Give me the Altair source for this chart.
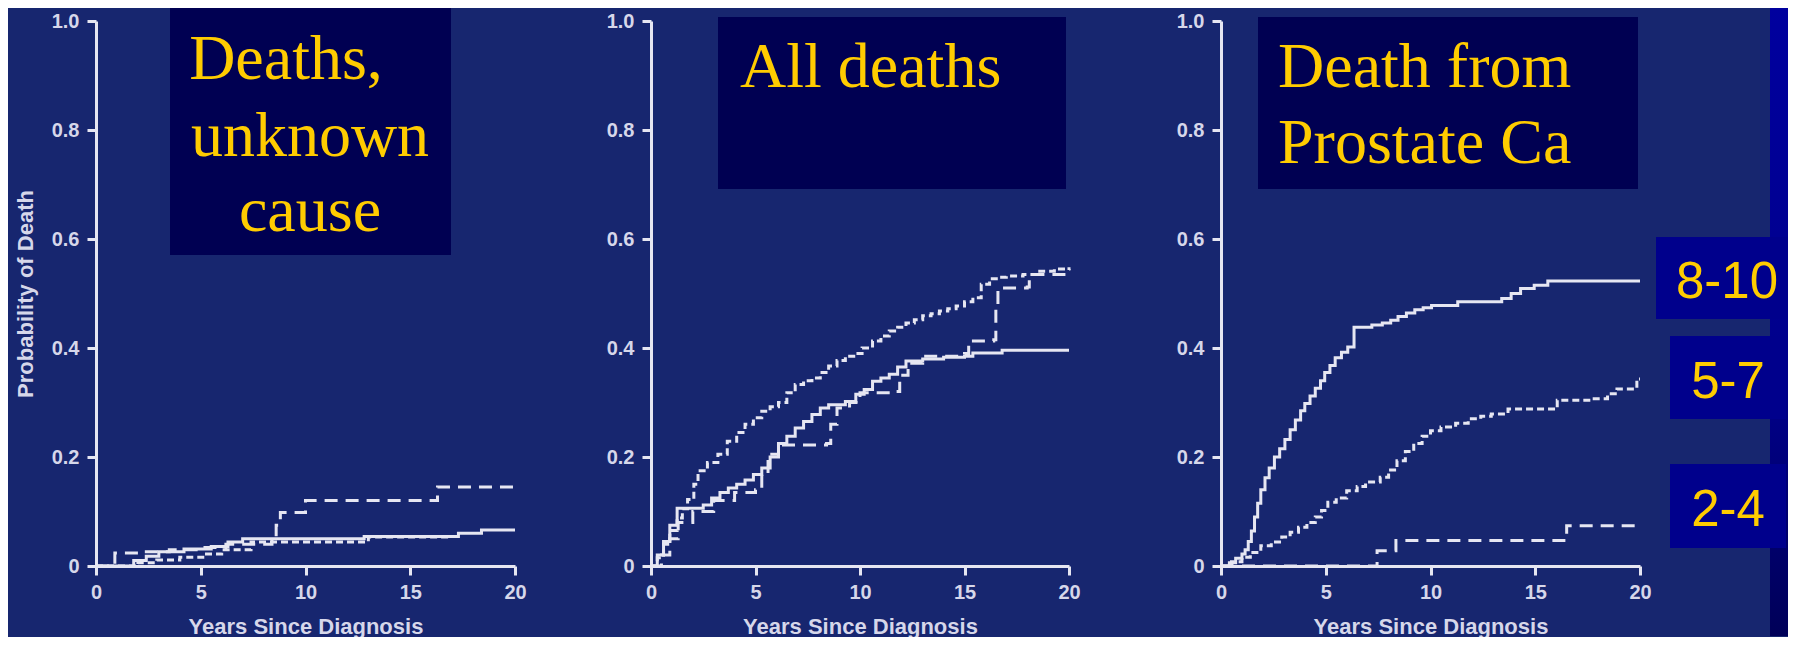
import altair as alt
import pandas as pd

BG = "#17266f"
BOX = "#000052"
LBOX = "#00008c"
GOLD = "#ffcc00"
INK = "#e6e6f2"
LABEL = "#d6d7ea"

x_ticks = [0, 5, 10, 15, 20]
y_ticks = [0, 0.2, 0.4, 0.6, 0.8, 1.0]
x_title = "Years Since Diagnosis"
y_title = "Probability of Death"
title1 = ["Deaths,", "unknown", "cause"]
title2 = ["All deaths"]
title3 = ["Death from", "Prostate Ca"]
group_labels = ["8-10", "5-7", "2-4"]

# ---- Panel 1: deaths, unknown cause
p1_solid_t = [0, 1.8, 2.4, 3.0, 4.2, 5.5, 6.3, 7.0, 12.8, 17.3, 18.4, 20]
p1_solid_p = [0, 0.010, 0.018, 0.026, 0.031, 0.036, 0.044, 0.050, 0.054, 0.060, 0.066, 0.066]
p1_dash_t = [0, 0.9, 2.2, 3.5, 5.0, 6.2, 8.4, 8.6, 8.8, 10.0, 16.3, 20]
p1_dash_p = [0, 0.024, 0.026, 0.030, 0.034, 0.040, 0.048, 0.075, 0.098, 0.120, 0.145, 0.145]
p1_dot_t = [0, 2.0, 2.9, 4.0, 5.2, 6.0, 7.4, 13.0, 17.0]
p1_dot_p = [0, 0.006, 0.011, 0.016, 0.022, 0.030, 0.044, 0.053, 0.053]

# ---- Panel 2: all deaths
p2_dot_t = [0, 0.3, 0.6, 0.9, 1.25, 1.5, 1.75, 2.05, 2.25, 2.7, 3.2, 3.65, 4.1, 4.5, 4.9,
            5.3, 5.7, 6.1, 6.5, 6.9, 7.3, 7.7, 8.1, 8.5, 8.9, 9.3, 9.7, 10.1, 10.6, 11.0,
            11.4, 11.8, 12.2, 12.6, 13.0, 13.4, 13.8, 14.2, 14.6, 15.0, 15.4, 15.8, 16.2,
            16.6, 17.0, 17.8, 18.6, 19.3, 20]
p2_dot_p = [0, 0.015, 0.04, 0.065, 0.088, 0.105, 0.122, 0.15, 0.175, 0.19, 0.205, 0.229,
            0.245, 0.26, 0.272, 0.284, 0.292, 0.30, 0.318, 0.333, 0.34, 0.345, 0.355, 0.367,
            0.377, 0.385, 0.39, 0.40, 0.413, 0.422, 0.431, 0.438, 0.446, 0.452, 0.459, 0.463,
            0.468, 0.472, 0.477, 0.485, 0.492, 0.517, 0.527, 0.530, 0.532, 0.535, 0.541,
            0.545, 0.548]
p2_solid_t = [0, 0.3, 0.6, 0.9, 1.25, 2.5, 2.9, 3.3, 3.7, 4.1, 4.5, 4.9, 5.3, 5.7, 6.1,
              6.5, 6.9, 7.3, 7.7, 8.1, 8.5, 9.3, 9.8, 10.2, 10.6, 11.0, 11.4, 11.8, 12.2,
              13.0, 14.0, 15.0, 15.4, 16.8, 20]
p2_solid_p = [0, 0.02, 0.045, 0.075, 0.106, 0.112, 0.125, 0.135, 0.143, 0.15, 0.158, 0.168,
              0.18, 0.2, 0.225, 0.238, 0.253, 0.265, 0.278, 0.29, 0.296, 0.302, 0.315, 0.324,
              0.339, 0.345, 0.352, 0.365, 0.376, 0.38, 0.383, 0.385, 0.391, 0.396, 0.396]
p2_dash_t = [0, 0.5, 0.9, 1.3, 2.0, 3.0, 4.0, 5.0, 5.3, 5.6, 6.1, 8.4, 8.6, 8.9, 9.5, 10.0,
             11.6, 11.9, 12.3, 13.0, 15.0, 15.2, 16.4, 16.5, 16.6, 18.0, 18.1, 20]
p2_dash_p = [0, 0.02, 0.05, 0.08, 0.10, 0.12, 0.135, 0.14, 0.17, 0.205, 0.222, 0.225, 0.26,
             0.29, 0.30, 0.318, 0.32, 0.35, 0.372, 0.385, 0.39, 0.413, 0.415, 0.47, 0.51,
             0.512, 0.535, 0.545]

# ---- Panel 3: death from prostate cancer
p3_g810_t = [0, 0.4, 0.7, 1.0, 1.15, 1.3, 1.45, 1.6, 1.75, 1.9, 2.1, 2.3, 2.55, 2.8, 3.05,
             3.3, 3.55, 3.8, 4.0, 4.25, 4.5, 4.75, 4.95, 5.2, 5.45, 5.75, 6.05, 6.35, 7.2,
             7.7, 8.1, 8.45, 8.85, 9.25, 9.65, 10.05, 11.3, 13.4, 13.85, 14.3, 14.95, 15.6, 20]
p3_g810_p = [0, 0.006, 0.014, 0.022, 0.03, 0.045, 0.064, 0.09, 0.115, 0.14, 0.162, 0.18,
             0.2, 0.215, 0.232, 0.25, 0.268, 0.285, 0.298, 0.312, 0.326, 0.34, 0.355, 0.368,
             0.382, 0.392, 0.402, 0.438, 0.442, 0.446, 0.451, 0.458, 0.464, 0.47, 0.474,
             0.478, 0.485, 0.491, 0.50, 0.509, 0.515, 0.523, 0.523]
p3_g57_t = [0, 0.5, 1.0, 1.4, 1.9, 2.4, 2.9, 3.3, 3.7, 4.1, 4.5, 4.8, 5.1, 5.5, 6.0, 6.5,
            6.9, 7.6, 8.0, 8.4, 8.8, 9.2, 9.6, 10.0, 10.5, 11.2, 11.8, 12.4, 12.9, 13.7,
            16.05, 17.65, 18.45, 18.9, 19.85, 20]
p3_g57_p = [0, 0.008, 0.016, 0.025, 0.037, 0.044, 0.053, 0.062, 0.071, 0.08, 0.09, 0.102,
            0.117, 0.125, 0.138, 0.146, 0.154, 0.163, 0.176, 0.193, 0.21, 0.225, 0.238,
            0.248, 0.255, 0.262, 0.27, 0.275, 0.279, 0.288, 0.304, 0.307, 0.316, 0.325,
            0.343, 0.343]
p3_g24_t = [0, 7.45, 8.35, 16.5, 19.9]
p3_g24_p = [0, 0.028, 0.047, 0.074, 0.074]

H = 545
W1, W2, W3 = 419, 418, 419
GAP12, GAP23 = 136, 152

DASH_BIG = [13, 8]
DASH_FINE = [7, 4]

dummy = pd.DataFrame({"d": [0]})
LABEL_EXPR = "datum.value == 0 ? '0' : format(datum.value, '.1f')"


def encodings(ytitle):
    x = alt.X("t:Q", scale=alt.Scale(domain=[0, 20], nice=False),
              axis=alt.Axis(values=x_ticks, format="d", labelPadding=7, titlePadding=14),
              title=x_title)
    if ytitle:
        y = alt.Y("p:Q", scale=alt.Scale(domain=[0, 1], nice=False),
                  axis=alt.Axis(values=y_ticks, labelPadding=8, titlePadding=14,
                                labelExpr=LABEL_EXPR),
                  title=ytitle)
    else:
        y = alt.Y("p:Q", scale=alt.Scale(domain=[0, 1], nice=False),
                  axis=alt.Axis(values=y_ticks, labelPadding=8, labelExpr=LABEL_EXPR),
                  title=None)
    return x, y


def line(ts, ps, dash, ytitle):
    x, y = encodings(ytitle)
    df = pd.DataFrame({"t": ts, "p": ps})
    if dash:
        m = alt.Chart(df).mark_line(interpolate="step-after", color=INK, strokeWidth=3,
                                    strokeDash=dash, strokeCap="butt")
    else:
        m = alt.Chart(df).mark_line(interpolate="step-after", color=INK, strokeWidth=3)
    return m.encode(x=x, y=y)


def rect(x1, x2, y1, y2, fill):
    return alt.Chart(dummy).mark_rect(fill=fill, strokeWidth=0).encode(
        x=alt.value(x1), x2=alt.value(x2), y=alt.value(y1), y2=alt.value(y2))


def text(s, x, y, size, font, align):
    return alt.Chart(dummy).mark_text(text=s, font=font, fontSize=size, color=GOLD,
                                      align=align, baseline="alphabetic").encode(
        x=alt.value(x), y=alt.value(y))


SERIF = "Liberation Serif"
SANS = "Liberation Sans"

panel1 = alt.layer(
    rect(-88, -86, -13, 615, BG),
    line(p1_solid_t, p1_solid_p, None, y_title),
    line(p1_dash_t, p1_dash_p, DASH_BIG, y_title),
    line(p1_dot_t, p1_dot_p, DASH_FINE, y_title),
    rect(74, 355, -13, 234, BOX),
    text(title1[0], 190, 58, 64, SERIF, "center"),
    text(title1[1], 214, 135, 64, SERIF, "center"),
    text(title1[2], 214, 210, 64, SERIF, "center"),
).properties(width=W1, height=H)

panel2 = alt.layer(
    line(p2_dot_t, p2_dot_p, DASH_FINE, None),
    line(p2_solid_t, p2_solid_p, None, None),
    line(p2_dash_t, p2_dash_p, DASH_BIG, None),
    rect(67, 415, -4, 168, BOX),
    text(title2[0], 89, 66, 64, SERIF, "left"),
).properties(width=W2, height=H)

band = alt.Chart(dummy).mark_rect(
    fill=alt.Gradient(gradient="linear",
                      stops=[alt.GradientStop(color="#00009e", offset=0),
                             alt.GradientStop(color="#00008a", offset=0.6),
                             alt.GradientStop(color="#000058", offset=1)],
                      x1=0, x2=0, y1=0, y2=1),
    strokeWidth=0,
).encode(x=alt.value(549), x2=alt.value(567), y=alt.value(-13), y2=alt.value(615))

panel3 = alt.layer(
    band,
    line(p3_g810_t, p3_g810_p, None, None),
    line(p3_g57_t, p3_g57_p, DASH_FINE, None),
    line(p3_g24_t, p3_g24_p, DASH_BIG, None),
    rect(37, 417, -4, 168, BOX),
    text(title3[0], 57, 66, 64, SERIF, "left"),
    text(title3[1], 57, 142, 64, SERIF, "left"),
    rect(435, 567, 216, 298, LBOX),
    rect(449, 565, 315, 398, LBOX),
    rect(449, 565, 443, 527, LBOX),
    text(group_labels[0], 506, 277, 51, SANS, "center"),
    text(group_labels[1], 507, 377, 51, SANS, "center"),
    text(group_labels[2], 507, 505, 51, SANS, "center"),
).properties(width=W3, height=H)


def spacer(w):
    return alt.Chart(dummy).mark_point(opacity=0, size=1).encode(
        x=alt.value(0), y=alt.value(0)).properties(width=w, height=H)


chart = alt.hconcat(panel1, spacer(GAP12), panel2, spacer(GAP23), panel3,
                    spacing=0, bounds="flush").properties(
    padding=0, background=BG
).configure_view(strokeWidth=0).configure_axis(
    grid=False,
    domainColor=INK, domainWidth=3,
    tickColor=INK, tickWidth=3, tickSize=9,
    labelColor=LABEL, labelFont=SANS, labelFontSize=20, labelFontWeight="bold",
    labelFlush=False,
    titleColor=LABEL, titleFont=SANS, titleFontSize=22, titleFontWeight="bold",
)

chart.save("out.html", embed_options={"renderer": "svg", "actions": False})
